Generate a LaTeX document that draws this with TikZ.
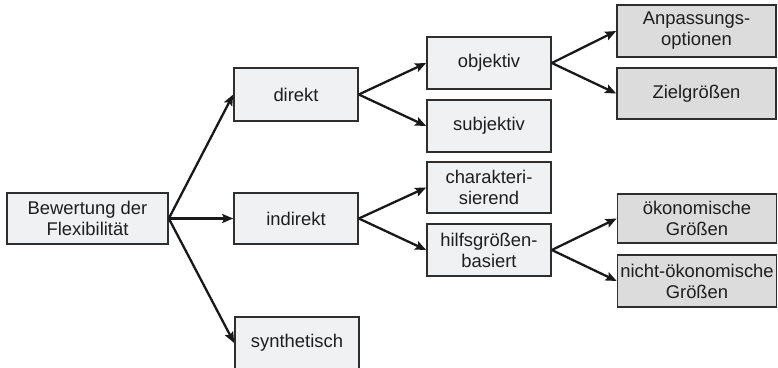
\documentclass[tikz,border=0pt]{standalone}
\usepackage{fontspec}
\setmainfont{Liberation Sans}
\usetikzlibrary{arrows.meta}
\definecolor{boxline}{HTML}{2E2E2E}
\definecolor{lightfill}{HTML}{F0F1F3}
\definecolor{darkfill}{HTML}{DCDCDC}
\definecolor{txt}{HTML}{1E1E1E}
\tikzset{
  box/.style={draw=boxline, line width=1.6pt, fill=lightfill, text=txt,
    minimum height=52pt, inner sep=0pt, align=center,
    font=\fontsize{18.4}{21}\selectfont},
  midbox/.style={box, minimum width=124pt},
  endbox/.style={box, fill=darkfill, minimum width=159pt},
  link/.style={draw=black!90, line width=2.3pt,
    -{Stealth[length=11pt, width=9pt, inset=2pt]}},
}
\begin{document}
\begin{tikzpicture}[x=1pt, y=-1pt]
  \useasboundingbox (0,0) rectangle (778,367);
  \begin{scope}
    \clip (0,0) rectangle (778,367);
    % root
    \node[box, minimum width=161pt, minimum height=51pt] (bew) at (87.5,218.5) {Bewertung der\\Flexibilität};
    % first level
    \node[midbox, minimum height=53pt] (dir) at (296,94.5) {direkt};
    \node[midbox, minimum height=51pt] (ind) at (296,218.5) {indirekt};
    \node[midbox] (syn) at (297,343) {synthetisch};
    % second level
    \node[midbox] (obj) at (489,63) {objektiv};
    \node[midbox] (sub) at (489,126) {subjektiv};
    \node[midbox, minimum height=51pt] (cha) at (489,187.5) {charakteri-\\sierend};
    \node[midbox] (hil) at (489,250) {hilfsgrößen-\\basiert};
    % third level
    \node[endbox] (anp) at (696.5,31) {Anpassungs-\\optionen};
    \node[endbox, minimum height=51pt] (ziel) at (696.5,93.5) {Zielgrößen};
    \node[endbox, minimum height=49pt] (oek) at (697,218.5) {ökonomische\\Größen};
    \node[endbox] (noek) at (697,281) {nicht-ökonomische\\Größen};
    % connectors
    \draw[link] (bew.east) -- (dir.west);
    \draw[link] (bew.east) -- (ind.west);
    \draw[link] (bew.east) -- (syn.west);
    \draw[link] (dir.east) -- (obj.west);
    \draw[link] (dir.east) -- (sub.west);
    \draw[link] (ind.east) -- (cha.west);
    \draw[link] (ind.east) -- (hil.west);
    \draw[link] (obj.east) -- (anp.west);
    \draw[link] (obj.east) -- (ziel.west);
    \draw[link] (hil.east) -- (oek.west);
    \draw[link] (hil.east) -- (noek.west);
  \end{scope}
\end{tikzpicture}
\end{document}
